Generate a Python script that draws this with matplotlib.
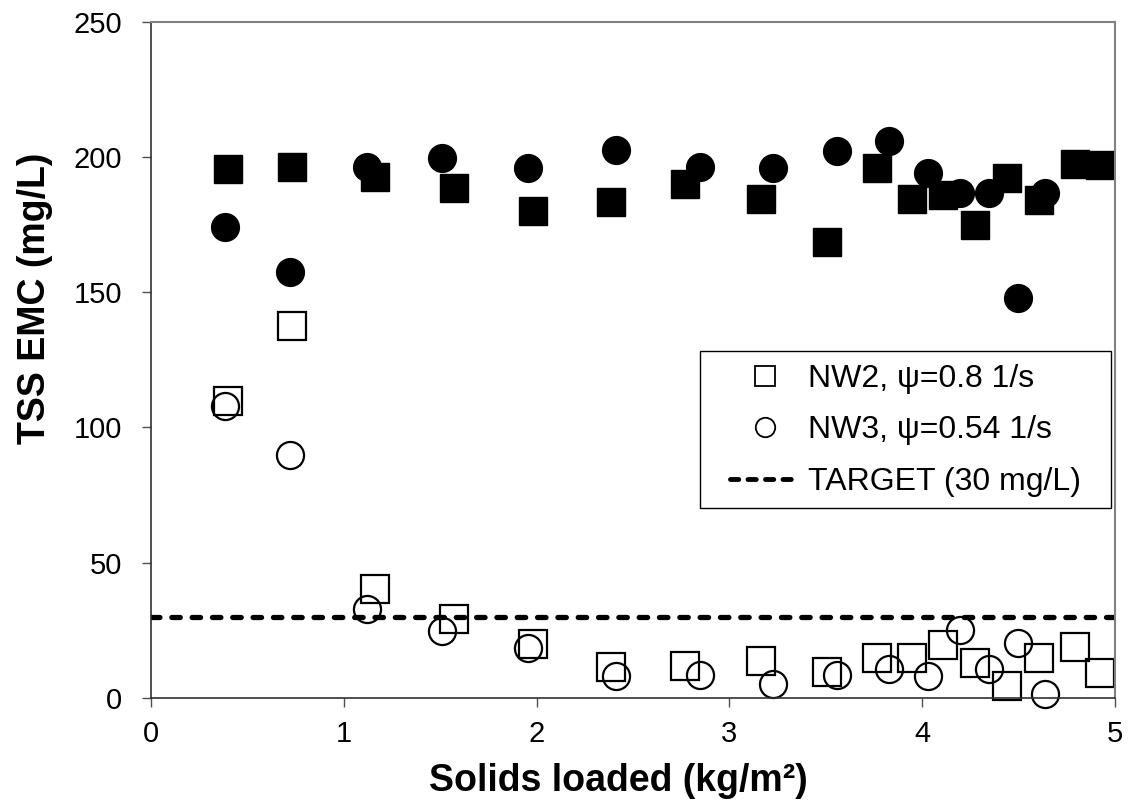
import numpy as np
import matplotlib
matplotlib.use("Agg")
import matplotlib.pyplot as plt
from matplotlib.lines import Line2D
from matplotlib.patches import Rectangle

plt.rcParams['font.family'] = ['Liberation Sans', 'DejaVu Sans']

# NW2 (squares): solids loaded, influent (filled) and effluent (open) TSS
nw2_load = [0.40, 0.729, 1.161, 1.574, 1.98, 2.387, 2.771, 3.166, 3.505, 3.765,
            3.945, 4.106, 4.274, 4.441, 4.606, 4.792, 4.923]
nw2_in = [195.6, 196.4, 192.7, 188.5, 180.0, 183.5, 190.1, 184.6, 168.5, 196.1,
          184.6, 186.1, 174.7, 192.4, 184.2, 197.4, 197.0]
nw2_out = [109.7, 137.5, 40.3, 29.3, 20.1, 11.6, 11.7, 13.7, 9.6, 14.6,
           14.8, 19.7, 13.0, 4.5, 14.6, 18.9, 9.4]

# NW3 (circles)
nw3_load = [0.386, 0.72, 1.118, 1.51, 1.954, 2.41, 2.847, 3.227, 3.559, 3.827,
            4.028, 4.195, 4.346, 4.497, 4.638]
nw3_in = [174.2, 157.3, 196.4, 199.5, 195.8, 202.4, 196.2, 196.0, 202.2, 206.0,
          194.1, 186.6, 186.5, 148.0, 186.6]
nw3_out = [107.8, 89.7, 32.9, 24.9, 18.3, 8.2, 8.6, 5.3, 8.4, 10.7,
           8.1, 25.3, 10.7, 20.5, 1.6]

target = 30
legend_labels = ['NW2, \u03c8=0.8 1/s', 'NW3, \u03c8=0.54 1/s', 'TARGET (30 mg/L)']

fig = plt.figure(figsize=(11.30, 8.07), dpi=100)
ax = fig.add_axes([0.1336, 0.1351, 0.8531, 0.8380])

ms = 20
ax.plot(nw2_load, nw2_in, 's', color='black', ms=ms, mec='black', clip_on=False)
ax.plot(nw3_load, nw3_in, 'o', color='black', ms=ms, mec='black', clip_on=False)
ax.plot(nw2_load, nw2_out, 's', mfc='none', mec='black', mew=1.6, ms=19.5, clip_on=False)
ax.plot(nw3_load, nw3_out, 'o', mfc='none', mec='black', mew=1.6, ms=19.5, clip_on=False)
ax.axhline(target, color='black', lw=3.8, linestyle=(0, (1.6, 2.25)),
           dash_capstyle='round')

ax.set_xlim(0, 5)
ax.set_ylim(0, 250)
ax.set_xticks(np.arange(0, 6, 1))
ax.set_yticks(np.arange(0, 300, 50))
ax.tick_params(labelsize=21, length=6.5, width=1, direction='out', color='#505050')
ax.tick_params(axis='y', pad=14)
ax.tick_params(axis='x', pad=9)

for s in ['top', 'right']:
    ax.spines[s].set_color('#808080')
    ax.spines[s].set_linewidth(1.5)
for s in ['left', 'bottom']:
    ax.spines[s].set_color('#303030')
    ax.spines[s].set_linewidth(1.2)

ax.set_xlabel('Solids loaded (kg/m\u00b2)', fontsize=27, fontweight='bold')
ax.set_ylabel('TSS EMC (mg/L)', fontsize=27, fontweight='bold')
ax.xaxis.set_label_coords(0.485, -0.096)
ax.yaxis.set_label_coords(-0.102, 0.591)

# legend: frame drawn separately so the inner padding can match
ax.add_patch(Rectangle((0.5695, 0.2809), 0.4264, 0.2322, transform=ax.transAxes,
                       fill=True, facecolor='white', edgecolor='black', lw=1.0,
                       clip_on=False, zorder=4))
handles = [
    Line2D([], [], marker='s', ls='none', mfc='none', mec='black', ms=14, mew=1.3),
    Line2D([], [], marker='o', ls='none', mfc='none', mec='black', ms=14, mew=1.3),
    Line2D([], [], color='black', lw=3.5, linestyle=(0, (1.7, 1.9)), dash_capstyle='round'),
]
leg = ax.legend(handles, legend_labels, loc='upper left',
                bbox_to_anchor=(0.6006, 0.4939), fontsize=23, frameon=False,
                handlelength=2.19, handletextpad=0.25, labelspacing=0.67,
                borderpad=0, borderaxespad=0)
leg.set_zorder(5)

fig.savefig('out.png', dpi=100)
